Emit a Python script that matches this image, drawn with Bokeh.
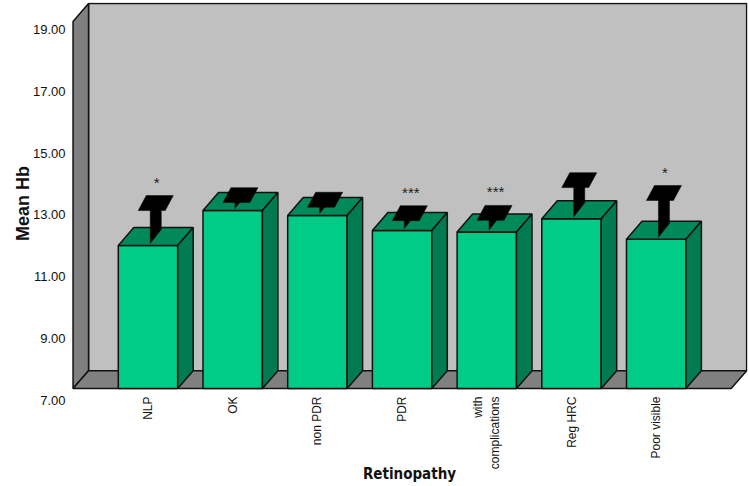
import math
from bokeh.plotting import figure
from bokeh.models import Range1d, LinearAxis, FixedTicker, NumeralTickFormatter
from bokeh.embed import file_html
from bokeh.resources import INLINE
from bokeh.core.properties import value

# ---------------- data ----------------
categories = ["NLP", "OK", "non PDR", "PDR", "with\ncomplications", "Reg HRC", "Poor visible"]
mean_hb = [11.68, 12.82, 12.66, 12.17, 12.12, 12.55, 11.88]
upper_ci = [12.77, 13.03, 12.88, 12.44, 12.45, 13.52, 13.10]
significance = ["*", "", "", "***", "***", "", "*"]
y_ticks = [7, 9, 11, 13, 15, 17, 19]
y_min, y_max = 7, 19

# ---------------- layout (pixels) ----------------
W, H = 749, 486
FRAME_L, FRAME_TOP, FRAME_W, FRAME_H = 71, 2, 676, 404
PX_X = 84.7            # px per category
FIRST_CAT_PX = 76.5    # first category centre from frame left
FLOOR_PX = 16          # front floor edge above frame bottom
TOP_PAD = 1
DX_PX, DY_PX = 15.5, 18.0   # 3-D depth offset
BAR_HALF_PX = 29.7
BOX_PAD = 0.885        # box extends beyond outer categories (category units)
CAP_W, CAP_DX, CAP_DY = 13.5, 4.0, 7.5
STEM_W, STEM_DY = 5.5, 7.0
LAB_TOP_PX, LAB_BOTTOM_PX = 27, 4   # where the 19.00 / 7.00 labels sit

pxu = (FRAME_H - FLOOR_PX - TOP_PAD - DY_PX) / (y_max - y_min)
x0 = -FIRST_CAT_PX / PX_X
x1 = x0 + FRAME_W / PX_X
y0 = y_min - FLOOR_PX / pxu
y1 = y0 + FRAME_H / pxu

DXd = DX_PX / PX_X
DYd = DY_PX / pxu
BH = BAR_HALF_PX / PX_X
n = len(categories)
bl, br = -BOX_PAD, n - 1 + BOX_PAD

p = figure(width=W, height=H, x_range=Range1d(x0, x1), y_range=Range1d(y0, y1),
           output_backend="svg", toolbar_location=None, y_axis_location=None,
           min_border_left=FRAME_L, min_border_right=W - FRAME_L - FRAME_W,
           min_border_top=FRAME_TOP, min_border_bottom=H - FRAME_TOP - FRAME_H)
p.grid.visible = False
p.outline_line_color = None
p.background_fill_color = "white"
p.border_fill_color = "white"

# ---------------- walls ----------------
wall_xs = [
    [bl + DXd, br + DXd, br + DXd, bl + DXd],          # back wall
    [bl, bl + DXd, bl + DXd, bl],                      # left wall
    [bl, br, br + DXd, bl + DXd],                      # floor
]
wall_ys = [
    [y_min + DYd, y_min + DYd, y_max + DYd, y_max + DYd],
    [y_min, y_min + DYd, y_max + DYd, y_max],
    [y_min, y_min, y_min + DYd, y_min + DYd],
]
p.patches(wall_xs, wall_ys, fill_color=["#C0C0C0", "#808080", "#808080"],
          line_color="#111111", line_width=1.5)

# ---------------- bars ----------------
fx, fy, tx, ty, sx, sy = [], [], [], [], [], []
for i, m in enumerate(mean_hb):
    l, r = i - BH, i + BH
    fx.append([l, r, r, l]); fy.append([y_min, y_min, m, m])
    tx.append([l, r, r + DXd, l + DXd]); ty.append([m, m, m + DYd, m + DYd])
    sx.append([r, r + DXd, r + DXd, r]); sy.append([y_min, y_min + DYd, m + DYd, m])
p.patches(fx, fy, fill_color="#00CC88", line_color="#111111", line_width=1.5)
p.patches(tx, ty, fill_color="#008A5A", line_color="#111111", line_width=1.5)
p.patches(sx, sy, fill_color="#007A50", line_color="#111111", line_width=1.5)

# ---------------- 3-D error bars ----------------
stx, sty, cx_, cy_ = [], [], [], []
cw, cdx, cdy = CAP_W / PX_X, CAP_DX / PX_X, CAP_DY / pxu
sw, sdy = STEM_W / PX_X, STEM_DY / pxu
for i, (m, u) in enumerate(zip(mean_hb, upper_ci)):
    cx = i + DXd / 2
    cu = u + DYd / 2
    cm = m + DYd / 2
    stx.append([cx - sw, cx + sw, cx + sw, cx - sw])
    sty.append([cu, cu, cm + sdy, cm - sdy])
    cx_.append([cx - cw - cdx, cx + cw - cdx, cx + cw + cdx, cx - cw + cdx])
    cy_.append([cu - cdy, cu - cdy, cu + cdy, cu + cdy])
p.patches(stx, sty, fill_color="black", line_color="black", line_width=0.5)
p.patches(cx_, cy_, fill_color="black", line_color="black", line_width=0.5)

# significance stars
st_x = [i + DXd / 2 + 1 / PX_X for i in range(n)]
st_y = [u + (DY_PX / 2 + 21) / pxu for u in upper_ci]
p.text(st_x, st_y, text=significance, text_align="center", text_baseline="middle",
       text_font=value("Liberation Sans"), text_font_size="15px", text_color="#222222")

# ---------------- axes ----------------
lab_pxu = (FRAME_H - LAB_TOP_PX - LAB_BOTTOM_PX) / (y_max - y_min)
p.extra_y_ranges = {"lab": Range1d(y_min - LAB_BOTTOM_PX / lab_pxu, y_max + LAB_TOP_PX / lab_pxu)}
yax = LinearAxis(y_range_name="lab", ticker=FixedTicker(ticks=y_ticks),
                 formatter=NumeralTickFormatter(format="0.00"), axis_label="Mean Hb")
yax.axis_line_color = None
yax.major_tick_line_color = None
yax.minor_tick_line_color = None
yax.major_tick_out = 0
yax.major_label_standoff = 6
yax.major_label_text_font = "Liberation Sans"
yax.major_label_text_font_style = "normal"
yax.major_label_text_font_size = "13px"
yax.major_label_text_color = "#111111"
yax.axis_label_text_font = "Liberation Sans"
yax.axis_label_text_font_style = "bold"
yax.axis_label_text_font_size = "18px"
yax.axis_label_text_color = "#111111"
yax.axis_label_standoff = -3
p.add_layout(yax, "left")

xax = p.xaxis[0]
xax.ticker = FixedTicker(ticks=list(range(n)))
xax.major_label_overrides = {i: c for i, c in enumerate(categories)}
xax.major_label_orientation = math.pi / 2
xax.axis_line_color = None
xax.major_tick_line_color = None
xax.minor_tick_line_color = None
xax.major_tick_out = 0
xax.major_label_standoff = -8
xax.major_label_text_font = "Liberation Sans"
xax.major_label_text_font_style = "normal"
xax.major_label_text_font_size = "12px"
xax.major_label_text_color = "#111111"
xax.axis_label = "Retinopathy"
xax.axis_label_text_font = "'Liberation Sans Narrow', 'DejaVu Sans Condensed', 'Liberation Sans'"
xax.axis_label_text_font_style = "bold"
xax.axis_label_text_font_size = "15px"
xax.axis_label_text_color = "#111111"
xax.axis_label_standoff = -7

open("out.html", "w").write(file_html(p, INLINE))
